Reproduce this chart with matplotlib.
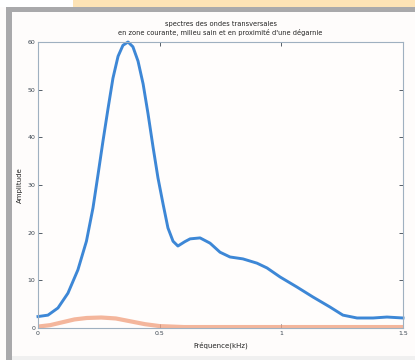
import matplotlib
matplotlib.use("Agg")
import matplotlib.pyplot as plt
from matplotlib.patches import Rectangle

# ── Data ──────────────────────────────────────────────────────────────────
freq_blue = [0.0, 0.041, 0.082, 0.123, 0.164, 0.199, 0.226, 0.247, 0.267, 0.288,
             0.308, 0.329, 0.349, 0.370, 0.390, 0.411, 0.432, 0.452, 0.473, 0.493,
             0.514, 0.534, 0.555, 0.575, 0.603, 0.625, 0.666, 0.707, 0.748, 0.789,
             0.842, 0.900, 0.941, 0.995, 1.064, 1.130, 1.200, 1.253, 1.311, 1.377,
             1.434, 1.5]
amp_blue = [2.4, 2.7, 4.2, 7.3, 12.2, 18.2, 25.2, 32.3, 39.2, 46.1,
            52.4, 57.0, 59.3, 60.0, 59.0, 56.0, 51.2, 45.0, 37.9, 31.5,
            26.0, 21.0, 18.2, 17.2, 18.1, 18.7, 18.9, 17.8, 15.9, 14.9,
            14.5, 13.6, 12.6, 10.7, 8.6, 6.5, 4.4, 2.7, 2.1, 2.1,
            2.3, 2.1]

freq_orange = [0.0, 0.05, 0.1, 0.15, 0.2, 0.26, 0.32, 0.38, 0.44, 0.5, 0.6, 0.8, 1.0, 1.2, 1.5]
amp_orange = [0.3, 0.6, 1.2, 1.8, 2.1, 2.2, 2.0, 1.4, 0.8, 0.4, 0.2, 0.2, 0.2, 0.2, 0.2]

x_ticks = [0, 0.5, 1, 1.5]
x_ticklabels = ["0", "0.5", "1", "1.5"]
y_ticks = [0, 10, 20, 30, 40, 50, 60]

title_lines = ["spectres des ondes transversales",
               "en zone courante, milieu sain et en proximité d'une dégarnie"]

# ── Figure with page decorations ──────────────────────────────────────────
W, H = 415, 360
fig = plt.figure(figsize=(W / 100, H / 100), dpi=100)
fig.patch.set_facecolor("#fefcfb")

def px_rect(x0, y0, x1, y1, color):
    fig.add_artist(Rectangle((x0 / W, 1 - y1 / H), (x1 - x0) / W, (y1 - y0) / H,
                             transform=fig.transFigure, color=color, lw=0, zorder=0))

px_rect(0, 0, W, 7, "#ffffff")
px_rect(73, 0, W, 7, "#fde3b5")
px_rect(6, 7, W, 12, "#a9a9ab")
px_rect(6, 7, 12, H, "#a9a9ab")
px_rect(12, 356, W, H, "#f0f0f0")

ax = fig.add_axes([38 / W, 1 - 328 / H, (403 - 38) / W, (328 - 42) / H])
ax.set_facecolor("#fffdfc")

ax.plot(freq_orange, amp_orange, color="#f2a484", lw=3, alpha=0.8,
        solid_capstyle="butt", solid_joinstyle="round")
ax.plot(freq_blue, amp_blue, color="#3d87d6", lw=2.1, solid_joinstyle="round",
        clip_on=False)

ax.set_xlim(0, 1.5)
ax.set_ylim(0, 60)
ax.set_xticks(x_ticks)
ax.set_xticklabels(x_ticklabels)
ax.set_yticks(y_ticks)
ax.tick_params(direction="in", length=3, width=0.6, labelsize=4.5,
               colors="#3a4550", top=True, right=True, pad=2)
for s in ax.spines.values():
    s.set_color("#9fb0c0")
    s.set_linewidth(0.8)

ax.set_xlabel("Fréquence(kHz)", fontsize=5, color="#222222", labelpad=4)
ax.set_ylabel("Amplitude", fontsize=5, color="#222222", labelpad=3)
ax.set_title("\n".join(title_lines), fontsize=4.8, color="#222222", pad=5,
             linespacing=1.3)

fig.savefig("out.png", dpi=100, facecolor=fig.get_facecolor())
